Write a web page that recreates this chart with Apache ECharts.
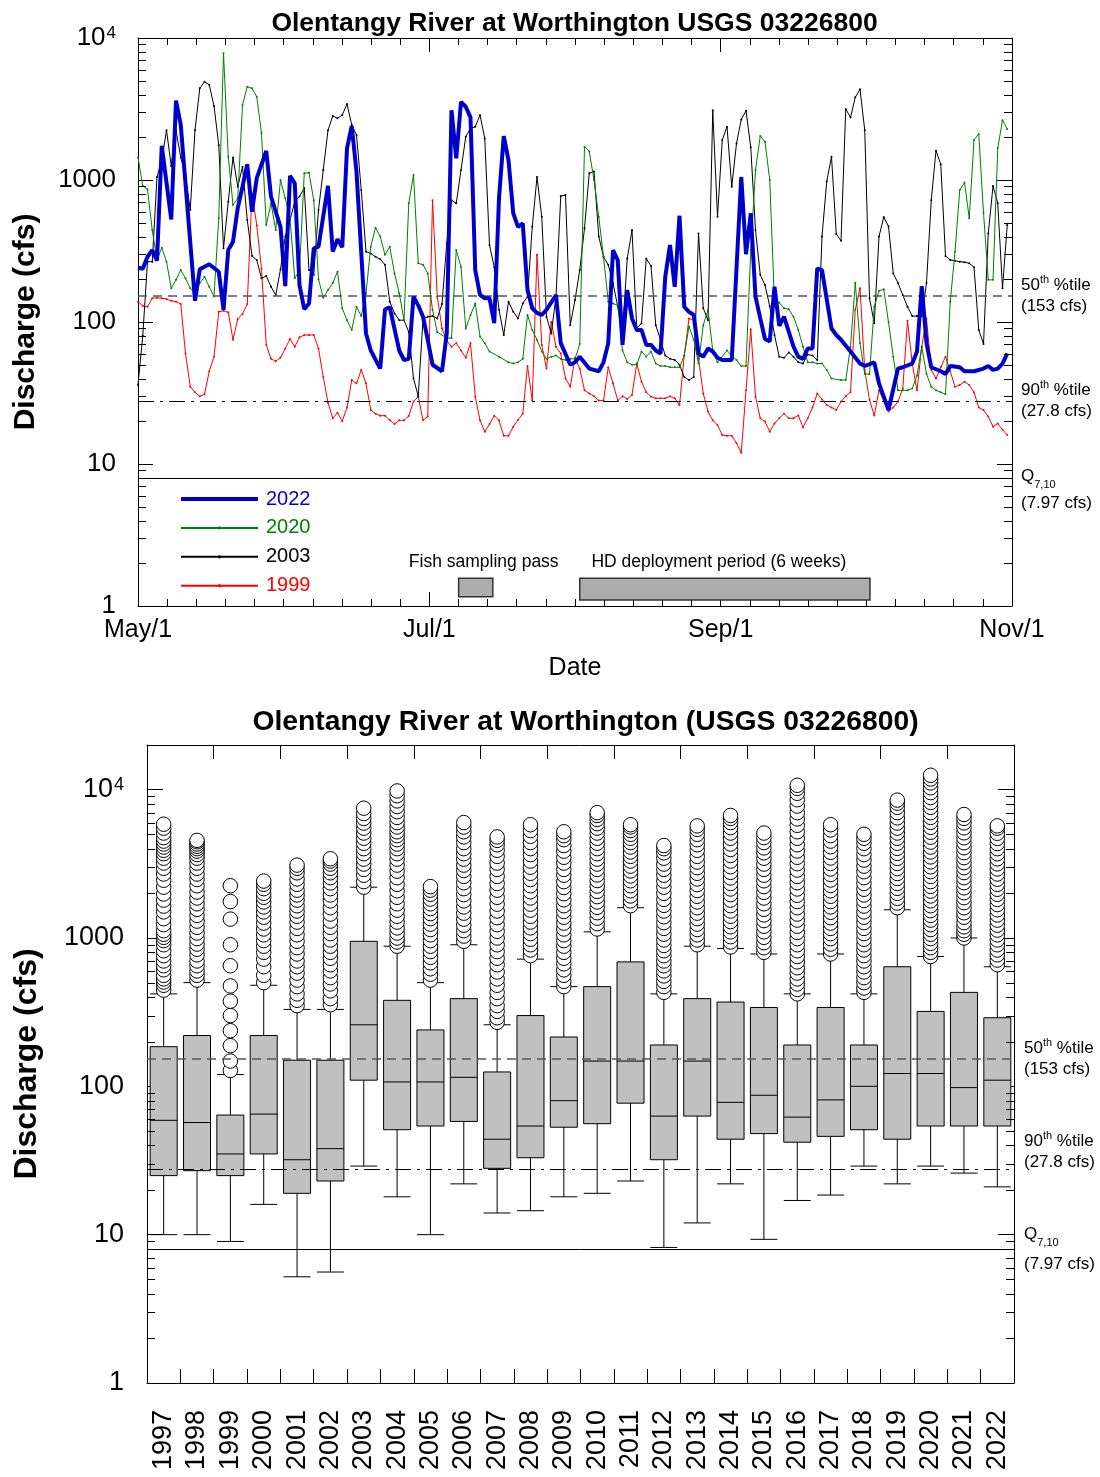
<!DOCTYPE html>
<html>
<head>
<meta charset="utf-8">
<script src="https://cdn.jsdelivr.net/npm/echarts@6/dist/echarts.min.js"></script>
<style>
  html, body { margin: 0; padding: 0; background: #fff; }
  #chart { width: 1100px; height: 1477px; }
</style>
</head>
<body>
<div id="chart"></div>
<script>
// ---- Daily discharge, May 1 – Nov 1 (day index from May 1, cfs) ----
const flow2022 = [[0,241],[1,237],[2,288],[3,321],[4,270],[5,1740],[7,528],[8,3620],[9,2440],[12,141],[13,235],[15,255],[17,226],[18,122],[19,321],[20,368],[21,635],[22,897],[23,1290],[24,598],[25,1030],[27,1600],[28,765],[30,468],[31,179],[32,1070],[33,947],[34,182],[35,123],[36,135],[37,330],[38,339],[40,910],[41,313],[42,383],[43,336],[44,1670],[45,2400],[46,1140],[48,83],[49,63],[51,47],[52,123],[53,127],[55,63],[56,54],[57,55],[58,151],[59,131],[60,109],[61,75],[62,50],[64,45],[65,83],[66,3100],[67,1420],[68,3550],[69,3280],[70,2760],[71,232],[72,155],[73,147],[74,147],[75,98],[76,744],[77,2040],[78,1380],[79,583],[80,468],[81,495],[82,168],[83,125],[84,116],[85,112],[86,122],[88,155],[89,71],[91,50],[92,52],[93,57],[95,47],[96,46],[97,45],[98,52],[99,71],[100,321],[101,273],[102,69],[103,168],[104,106],[105,88],[106,88],[107,69],[108,69],[109,63],[110,60],[111,208],[112,348],[113,177],[114,560],[115,128],[116,118],[117,112],[118,60],[119,57],[120,65],[121,62],[122,56],[123,54],[125,54],[127,1050],[128,300],[129,583],[130,151],[131,106],[132,76],[133,73],[134,177],[135,94],[136,109],[138,67],[139,57],[140,55],[141,65],[142,65],[143,239],[144,232],[146,90],[147,81],[148,75],[150,62],[152,51],[153,49],[155,52],[156,37],[158,24],[160,47],[161,48],[163,51],[164,62],[165,179],[166,71],[167,48],[169,45],[170,43],[171,49],[173,48],[174,45],[176,45],[178,47],[179,49],[180,46],[181,47],[182,51],[183,60]];

const flow2020 = [[0,1440],[1,907],[2,860],[3,444],[4,273],[5,334],[6,266],[7,173],[8,198],[9,232],[10,203],[11,173],[12,159],[13,188],[14,208],[15,177],[16,151],[17,537],[18,7800],[19,1460],[20,667],[21,744],[22,3375],[23,4540],[24,4420],[25,3860],[26,2130],[27,482],[28,685],[29,444],[30,1000],[31,744],[32,537],[33,203],[34,232],[35,1115],[36,1125],[37,720],[38,200],[39,148],[40,168],[41,188],[42,226],[43,125],[44,103],[45,88],[46,128],[47,110],[48,159],[49,339],[50,461],[51,400],[52,297],[53,339],[54,220],[55,159],[56,103],[57,685],[58,1084],[59,259],[60,253],[61,220],[62,122],[63,85],[65,77],[66,77],[67,321],[68,245],[69,90],[70,112],[71,135],[72,79],[73,71],[74,62],[76,57],[78,52],[79,51],[80,52],[81,55],[82,112],[83,88],[84,75],[85,62],[86,55],[87,57],[88,58],[89,55],[90,54],[91,55],[92,55],[93,70],[94,1717],[95,1590],[96,1000],[97,551],[98,288],[99,139],[100,135],[101,131],[102,63],[103,52],[104,50],[105,50],[106,62],[107,57],[108,62],[109,51],[110,49],[111,49],[112,48],[113,48],[114,48],[115,58],[116,93],[117,75],[118,51],[119,95],[120,122],[121,63],[122,52],[124,63],[125,58],[126,54],[127,49],[128,49],[129,321],[130,1175],[131,2040],[132,1860],[133,1000],[134,135],[135,137],[136,125],[137,123],[138,109],[139,88],[140,67],[141,52],[142,52],[143,51],[144,51],[145,46],[146,40],[148,39],[149,39],[150,67],[151,189],[152,71],[153,43],[154,43],[155,128],[156,166],[157,170],[158,100],[159,57],[160,33],[161,33],[162,33],[163,34],[164,42],[165,67],[166,43],[167,35],[168,33],[169,32],[170,31],[171,139],[172,313],[173,852],[174,960],[175,537],[176,1915],[177,2110],[178,590],[179,198],[180,198],[181,1670],[182,2640],[183,2280]];

const flow2003 = [[0,36],[1,80],[2,266],[3,266],[4,1050],[5,1380],[6,2240],[7,1250],[8,2240],[9,1440],[10,1080],[11,616],[12,2240],[13,4420],[14,4920],[15,4680],[16,3320],[17,1760],[18,330],[19,704],[20,1440],[21,897],[22,1240],[23,522],[24,292],[25,273],[26,203],[27,211],[28,177],[29,155],[30,235],[31,400],[32,522],[33,704],[34,765],[35,880],[36,232],[37,215],[38,616],[39,1175],[40,2240],[41,2820],[42,2720],[43,2870],[44,3430],[45,2440],[46,2075],[47,852],[48,313],[49,304],[50,288],[51,277],[52,253],[53,139],[54,115],[55,103],[56,103],[57,85],[58,40],[59,30],[60,105],[61,109],[62,110],[63,106],[64,134],[65,358],[66,720],[67,685],[68,1175],[69,2020],[70,2310],[71,2370],[72,2870],[73,1960],[74,348],[75,243],[76,122],[77,81],[78,139],[79,118],[80,106],[81,135],[82,151],[83,468],[84,1050],[85,551],[86,109],[87,83],[88,151],[89,771],[90,784],[91,95],[92,143],[93,232],[94,457],[95,1115],[96,1150],[97,400],[98,288],[99,253],[100,188],[101,128],[102,85],[103,280],[104,444],[105,90],[106,98],[107,280],[108,248],[109,95],[110,75],[111,58],[112,55],[113,54],[114,50],[115,41],[116,39],[117,41],[118,420],[119,125],[120,103],[121,3100],[122,551],[123,1915],[124,2370],[125,897],[126,1810],[127,2670],[128,3080],[129,1700],[130,444],[131,215],[132,182],[133,129],[134,81],[135,57],[136,56],[137,61],[138,57],[139,52],[140,51],[141,59],[142,58],[143,54],[144,400],[145,980],[146,1460],[147,417],[148,373],[149,3160],[150,2760],[151,3820],[152,4350],[153,2240],[154,147],[155,98],[156,400],[157,548],[158,472],[159,220],[160,188],[161,155],[162,128],[163,110],[164,110],[165,110],[166,188],[167,720],[168,1610],[169,1290],[170,292],[171,273],[172,270],[173,266],[174,264],[175,259],[176,243],[177,88],[178,70],[179,420],[180,907],[181,685],[182,173],[183,482]];

const flow1999 = [[0,139],[1,130],[2,128],[3,147],[4,148],[5,147],[6,145],[7,141],[8,139],[9,134],[10,60],[11,35],[12,32],[13,30],[14,31],[15,45],[16,57],[17,118],[18,120],[19,117],[20,75],[21,105],[22,114],[23,134],[24,805],[25,480],[26,236],[27,69],[28,55],[29,53],[30,56],[31,65],[32,76],[33,67],[34,78],[35,81],[36,81],[37,81],[38,65],[39,41],[40,27],[41,21],[42,23],[43,20],[44,25],[45,39],[46,37],[47,46],[48,37],[49,24],[50,22.6],[51,21.9],[52,21.9],[53,20.4],[54,19.1],[55,20.3],[56,20.3],[57,21.8],[58,27.5],[59,29.8],[60,20.3],[61,21.6],[62,720],[63,151],[64,90],[65,74],[66,67],[67,71],[68,63],[69,56],[70,71],[71,29.8],[72,20.3],[73,16.9],[74,19.1],[75,21.9],[76,20.3],[77,15.8],[78,15.8],[79,18.3],[80,20.4],[81,22.6],[82,49],[83,28],[84,297],[85,69],[86,47],[87,100],[88,67],[89,60],[90,40],[91,35],[92,56],[93,47],[94,33],[95,31.4],[96,30],[97,28],[98,28],[99,48],[100,37],[101,28],[102,30],[103,28.7],[104,30.6],[105,51],[106,38],[107,32],[108,29.8],[109,29],[110,29],[111,29],[112,30],[113,29],[114,26],[115,58],[116,106],[117,103],[118,55],[119,31.4],[120,23.4],[121,20.3],[122,18.8],[123,16],[124,15.8],[125,15.8],[126,14],[127,12],[128,33],[129,89],[130,29.8],[131,21],[132,19.9],[133,16.9],[134,19.3],[135,21],[136,22.6],[137,21],[138,21],[139,22],[140,18.1],[141,21],[142,25],[143,31.4],[144,28.5],[145,26],[146,25],[147,24],[148,27.5],[149,30],[150,32],[151,122],[152,173],[153,46],[154,28.2],[155,22],[156,33],[157,28],[158,23.4],[159,25],[160,27.5],[161,34],[162,102],[163,51],[164,33],[165,67],[166,106],[167,46],[168,40],[169,48],[170,57],[171,45],[172,35],[173,36],[174,38],[175,36],[176,32],[177,25],[178,24],[179,21.6],[180,18.3],[181,19.3],[182,17.4],[183,16]];

// Date axis: labelled month starts (evenly split over the season)
const monthLabels = ['May/1', 'Jul/1', 'Sep/1', 'Nov/1'];
const seasonDays = 184;

// Flow statistics (cfs)
const median50 = 153;     // 50th percentile
const pct90 = 27.8;       // 90th percentile exceedance
const q710 = 7.97;        // Q7,10 low flow

// Study periods (day index from May 1)
const fishPass = [67.5, 74.7];
const hdPeriod = [93, 154.1];

// ---- Annual May–Oct daily flow distribution ----
const years = ['1997','1998','1999','2000','2001','2002','2003','2004','2005','2006','2007','2008','2009','2010','2011','2012','2013','2014','2015','2016','2017','2018','2019','2020','2021','2022'];

// [lower whisker, Q1, median, Q3, upper whisker]
const boxStats = [
  [10, 25, 59, 185, 420],
  [10, 27, 57, 220, 500],
  [9, 25, 35, 64, 120],
  [16, 35, 65, 220, 480],
  [5.2, 19, 32, 150, 330],
  [5.6, 23, 38, 150, 330],
  [29, 110, 260, 950, 2200],
  [18, 51, 107, 380, 880],
  [10, 54, 107, 240, 500],
  [22, 58, 115, 390, 900],
  [14, 28, 44, 125, 260],
  [14.5, 33, 54, 300, 720],
  [18, 53, 80, 215, 470],
  [19, 56, 148, 470, 1100],
  [23, 77, 148, 690, 1600],
  [8.2, 32, 63, 190, 420],
  [12, 63, 148, 390, 880],
  [22, 44, 78, 370, 850],
  [9.3, 48, 87, 340, 780],
  [17, 42, 62, 190, 420],
  [18.5, 46, 81, 340, 780],
  [29, 51, 100, 190, 420],
  [22, 44, 122, 640, 1550],
  [29, 54, 122, 320, 750],
  [26, 54, 98, 430, 1000],
  [21, 54, 110, 290, 640]
];

// High-flow days above the upper whisker, per year
const outliers = [
  [445,480,505,530,560,610,650,700,760,820,900,960,1010,1060,1120,1230,1350,1500,1640,1800,1980,2200,2450,2700,2950,3200,3450,3700,3900,4100,4300,4500,4750,5100,5500,5850],
  [520,560,600,650,700,770,840,910,990,1080,1180,1300,1420,1560,1700,1860,2040,2250,2480,2700,2950,3200,3450,3650,3850,4000,4150,4300,4450,4550],
  [128,148,188,237,300,375,475,650,900,1340,1760,2250],
  [500,560,640,720,800,880,960,1050,1150,1260,1380,1500,1620,1750,1880,2000,2150,2300,2420],
  [350,380,420,470,520,580,640,700,780,860,950,1050,1160,1280,1400,1520,1650,1800,1950,2100,2300,2500,2750,2950,3100],
  [355,390,440,490,540,600,660,730,800,880,970,1070,1180,1300,1450,1600,1780,1950,2150,2350,2550,2750,2950,3150,3300,3420],
  [2200,2400,2650,2900,3150,3400,3700,4000,4350,4700,5100,5500,5950,6400,6900,7500],
  [880,940,1000,1080,1170,1280,1400,1540,1700,1880,2080,2300,2550,2820,3100,3400,3700,4000,4300,4600,4900,5200,5600,6000,6500,7100,7700,8400,9100,9800],
  [520,570,620,680,740,810,880,960,1050,1140,1240,1350,1460,1580,1700,1830,1970,2100,2220],
  [950,1030,1120,1220,1340,1470,1620,1780,1960,2150,2360,2600,2850,3100,3400,3700,4000,4400,4800,5200,5600,6000],
  [270,290,320,350,390,430,480,530,590,660,730,810,900,1000,1110,1230,1370,1520,1690,1880,2100,2330,2600,2900,3200,3550,3900,4250,4550,4800],
  [760,830,900,980,1070,1170,1280,1400,1540,1690,1860,2050,2250,2480,2730,3000,3300,3650,4000,4400,4850,5300,5800],
  [470,510,560,610,670,730,800,880,960,1050,1150,1260,1380,1510,1650,1810,1990,2190,2400,2650,2900,3200,3500,3850,4200,4600,4900,5200],
  [1150,1250,1360,1480,1610,1750,1900,2060,2240,2440,2660,2900,3150,3400,3700,4000,4350,4700,5100,5500,5900,6300,6700,7000],
  [1650,1780,1920,2080,2250,2430,2620,2830,3050,3300,3550,3800,4100,4400,4700,5000,5300,5600,5800],
  [430,470,510,555,600,650,700,760,820,890,970,1060,1160,1270,1390,1520,1660,1820,2000,2200,2420,2650,2900,3150,3450,3750,4000,4200],
  [900,970,1050,1140,1240,1350,1470,1600,1750,1910,2090,2290,2500,2730,2980,3250,3550,3900,4250,4600,5000,5400,5700],
  [870,940,1020,1100,1190,1290,1400,1520,1650,1800,1960,2140,2330,2540,2770,3020,3300,3600,3950,4300,4700,5100,5550,6000,6400,6700],
  [800,860,930,1010,1100,1200,1310,1430,1560,1700,1860,2030,2220,2430,2650,2900,3150,3450,3750,4050,4400,4750,5100],
  [420,450,490,530,580,630,690,750,820,900,990,1090,1200,1320,1450,1600,1760,1940,2140,2360,2600,2870,3170,3500,3860,4250,4700,5200,5750,6350,7000,7750,8550,9450,10200,10700],
  [780,840,910,990,1070,1160,1260,1370,1490,1620,1760,1910,2080,2260,2460,2680,2920,3180,3460,3780,4120,4500,4900,5350,5800],
  [430,460,500,540,590,640,700,760,830,900,980,1070,1160,1270,1380,1500,1640,1790,1950,2130,2330,2550,2800,3050,3350,3650,4000,4350,4700,5000],
  [1600,1720,1850,2000,2160,2330,2520,2720,2940,3180,3440,3720,4020,4350,4700,5100,5500,5950,6450,7000,7600,8100,8500],
  [750,800,860,920,990,1060,1140,1230,1320,1420,1530,1650,1780,1920,2070,2230,2400,2600,2800,3020,3260,3520,3800,4100,4430,4780,5160,5570,6020,6500,7000,7600,8200,8850,9550,10300,11100,11800,12500],
  [1000,1060,1120,1190,1270,1380,1480,1600,1730,1870,2020,2180,2360,2550,2760,2980,3220,3480,3760,4060,4390,4740,5120,5530,5970,6400,6800],
  [660,710,770,830,900,970,1050,1130,1220,1320,1430,1550,1680,1820,1970,2130,2300,2490,2700,2920,3160,3420,3700,4000,4330,4690,5080,5500,5700]
];

// ---- Styling ----
const FONT = '"Liberation Sans", Arial, Helvetica, sans-serif';
const BLUE = '#0000cd', GREEN = '#008000', RED = '#ff0000', BLACK = '#000000';

function logLabel(v) {
  const e = Math.log10(v), r = Math.round(e);
  if (Math.abs(e - r) > 1e-6) return '';
  if (r >= 4) return '{m|10}{p|' + r + '}';
  return '{m|' + Math.round(Math.pow(10, r)) + '}';
}
function richLog(size) {
  return {
    m: { fontSize: size, fontFamily: FONT, color: '#000' },
    p: { fontSize: Math.round(size * 0.65), fontFamily: FONT, color: '#000', verticalAlign: 'top', lineHeight: Math.round(size * 0.65), padding: [0, 0, 0, 1] }
  };
}
// Right-hand annotation text; q-line height differs between the two panels
function richRight(qLine) {
  return {
    n: { fontSize: 17, fontFamily: FONT, color: '#000', lineHeight: 21 },
    q: { fontSize: 17, fontFamily: FONT, color: '#000', lineHeight: qLine },
    sup: { fontSize: 11, fontFamily: FONT, color: '#000', verticalAlign: 'top', lineHeight: 11 },
    sub: { fontSize: 11, fontFamily: FONT, color: '#000', verticalAlign: 'top', lineHeight: 11, padding: [Math.round(qLine / 2) + 3, 0, 0, 0] }
  };
}

// Minor log ticks (2..9 per decade)
function minorLogValues(maxVal) {
  const out = [];
  for (let d = 1; d < maxVal; d *= 10) {
    for (let m = 2; m <= 9; m++) { if (m * d < maxVal) out.push(m * d); }
  }
  return out;
}
function minorTickSeries(xi, yi, maxVal) {
  return {
    type: 'custom', xAxisIndex: xi, yAxisIndex: yi, silent: true, clip: false, z: 20,
    data: minorLogValues(maxVal).map(v => [0, v]),
    encode: { x: 0, y: 1 },
    renderItem: function (params, api) {
      const cs = params.coordSys;
      const y = Math.round(api.coord([0, api.value(1)])[1]) + 0.5;
      const st = { stroke: '#000', lineWidth: 1 };
      return { type: 'group', children: [
        { type: 'line', shape: { x1: cs.x, y1: y, x2: cs.x + 8, y2: y }, style: st },
        { type: 'line', shape: { x1: cs.x + cs.width, y1: y, x2: cs.x + cs.width - 8, y2: y }, style: st }
      ]};
    }
  };
}

function refLines(pad90, padQ) {
  return [
    { yAxis: median50, lineStyle: { type: [9, 6], color: '#555', width: 1.5 },
      label: { formatter: '{n|50}{sup|th}{n| %tile}\n{n|(153 cfs)}' } },
    { yAxis: pct90, lineStyle: { type: [16, 6, 3, 6], color: '#000', width: 1.2 },
      label: { formatter: '{n|90}{sup|th}{n| %tile}\n{n|(27.8 cfs)}', padding: pad90 } },
    { yAxis: q710, lineStyle: { type: 'solid', color: '#000', width: 1 },
      label: { formatter: '{q|Q}{sub|7,10}\n{q|(7.97 cfs)}', padding: padQ } }
  ];
}

const axisLineBlack = { show: true, onZero: false, lineStyle: { color: '#000', width: 1 } };

const chart = echarts.init(document.getElementById('chart'), null, { renderer: 'canvas' });

const option = {
  animation: false,
  backgroundColor: '#fff',
  title: [
    { text: 'Olentangy River at Worthington USGS 03226800', left: 569.5, textAlign: 'center', top: 5,
      textStyle: { fontSize: 26.5, fontWeight: 'bold', fontFamily: FONT, color: '#000' } },
    { text: 'Olentangy River at Worthington (USGS 03226800)', left: 580.5, textAlign: 'center', top: 703,
      textStyle: { fontSize: 28.3, fontWeight: 'bold', fontFamily: FONT, color: '#000' } }
  ],
  legend: {
    orient: 'vertical', left: 179, top: 489, padding: 0, itemWidth: 77, itemHeight: 4, itemGap: 8.9,
    selectedMode: false,
    textStyle: { fontSize: 20, fontFamily: FONT, padding: [0, 0, 0, 3] },
    data: [
      { name: '2022', textStyle: { color: BLUE }, lineStyle: { width: 4 } },
      { name: '2020', textStyle: { color: GREEN } },
      { name: '2003', textStyle: { color: BLACK } },
      { name: '1999', textStyle: { color: RED } }
    ]
  },
  grid: [
    { left: 138, top: 38, width: 874, height: 568, outerBoundsMode: 'none', containLabel: false },
    { left: 147, top: 745, width: 867, height: 638, outerBoundsMode: 'none', containLabel: false }
  ],
  xAxis: [
    { type: 'value', gridIndex: 0, min: 0, max: seasonDays, interval: seasonDays / 3, position: 'bottom',
      axisLine: axisLineBlack,
      axisTick: { show: true, inside: true, length: 14, lineStyle: { color: '#000' } },
      minorTick: { show: true, splitNumber: 10, length: 7, lineStyle: { color: '#000' } },
      splitLine: { show: false }, minorSplitLine: { show: false },
      axisLabel: { fontSize: 25, fontFamily: FONT, color: '#000', margin: 12,
        formatter: v => monthLabels[Math.round(v / (seasonDays / 3))] },
      name: 'Date', nameLocation: 'middle', nameGap: 50,
      nameTextStyle: { fontSize: 25, fontFamily: FONT, color: '#000' } },
    { type: 'value', gridIndex: 0, min: 0, max: seasonDays, interval: seasonDays / 3, position: 'top',
      axisLine: axisLineBlack,
      axisTick: { show: true, inside: true, length: 14, lineStyle: { color: '#000' } },
      minorTick: { show: true, splitNumber: 10, length: 7, lineStyle: { color: '#000' } },
      splitLine: { show: false }, axisLabel: { show: false } },
    { type: 'category', gridIndex: 1, data: years, position: 'bottom',
      axisLine: axisLineBlack,
      axisTick: { show: true, inside: true, length: 14, alignWithLabel: false, lineStyle: { color: '#000' } },
      splitLine: { show: false },
      axisLabel: { rotate: 90, fontSize: 27, fontFamily: FONT, color: '#000', margin: 27, interval: 0 } },
    { type: 'category', gridIndex: 1, data: years, position: 'top',
      axisLine: axisLineBlack,
      axisTick: { show: true, inside: true, length: 14, alignWithLabel: false, lineStyle: { color: '#000' } },
      splitLine: { show: false }, axisLabel: { show: false } }
  ],
  yAxis: [
    { type: 'log', logBase: 10, gridIndex: 0, min: 1, max: 10000, position: 'left',
      axisLine: axisLineBlack,
      axisTick: { show: true, inside: true, length: 15, lineStyle: { color: '#000' } },
      splitLine: { show: false },
      axisLabel: { formatter: logLabel, rich: richLog(26), margin: 22 },
      name: 'Discharge (cfs)', nameLocation: 'middle', nameGap: 97, nameRotate: 90,
      nameTextStyle: { fontSize: 30, fontWeight: 'bold', fontFamily: FONT, color: '#000' } },
    { type: 'log', logBase: 10, gridIndex: 0, min: 1, max: 10000, position: 'right',
      axisLine: axisLineBlack,
      axisTick: { show: true, inside: true, length: 15, lineStyle: { color: '#000' } },
      splitLine: { show: false }, axisLabel: { show: false } },
    { type: 'log', logBase: 10, gridIndex: 1, min: 1, max: 20000, position: 'left',
      axisLine: axisLineBlack,
      axisTick: { show: true, inside: true, length: 16, lineStyle: { color: '#000' } },
      splitLine: { show: false },
      axisLabel: { formatter: logLabel, rich: richLog(27), margin: 23 },
      name: 'Discharge (cfs)', nameLocation: 'middle', nameGap: 104, nameRotate: 90,
      nameTextStyle: { fontSize: 32, fontWeight: 'bold', fontFamily: FONT, color: '#000' } },
    { type: 'log', logBase: 10, gridIndex: 1, min: 1, max: 20000, position: 'right',
      axisLine: axisLineBlack,
      axisTick: { show: true, inside: true, length: 16, lineStyle: { color: '#000' } },
      splitLine: { show: false }, axisLabel: { show: false } }
  ],
  series: [
    // reference flows + study periods (top)
    { name: 'ref-top', type: 'line', xAxisIndex: 0, yAxisIndex: 0, data: [], silent: true, z: 1,
      markLine: { silent: true, symbol: 'none', animation: false,
        label: { show: true, position: 'end', distance: 9, rich: richRight(27), color: '#000' },
        data: refLines(0, [23, 0, 0, 0]) },
      markArea: { silent: true,
        itemStyle: { color: '#acacac', borderColor: '#333', borderWidth: 1.5 },
        label: { show: true, position: 'top', distance: 6, fontSize: 17.5, fontFamily: FONT, color: '#000' },
        data: [
          [{ name: 'Fish sampling pass', coord: [fishPass[0], 1.16], label: { offset: [8, 0] } }, { coord: [fishPass[1], 1.57] }],
          [{ name: 'HD deployment period (6 weeks)', coord: [hdPeriod[0], 1.10], label: { offset: [-6, 0] } }, { coord: [hdPeriod[1], 1.57] }]
        ] } },
    { name: '1999', type: 'line', xAxisIndex: 0, yAxisIndex: 0, data: flow1999, z: 2,
      symbol: 'circle', symbolSize: 2, showSymbol: true, color: RED,
      lineStyle: { color: RED, width: 1 }, itemStyle: { color: RED } },
    { name: '2003', type: 'line', xAxisIndex: 0, yAxisIndex: 0, data: flow2003, z: 3,
      symbol: 'circle', symbolSize: 2, showSymbol: true, color: BLACK,
      lineStyle: { color: BLACK, width: 1 }, itemStyle: { color: BLACK } },
    { name: '2020', type: 'line', xAxisIndex: 0, yAxisIndex: 0, data: flow2020, z: 4,
      symbol: 'circle', symbolSize: 2, showSymbol: true, color: GREEN,
      lineStyle: { color: GREEN, width: 1 }, itemStyle: { color: GREEN } },
    { name: '2022', type: 'line', xAxisIndex: 0, yAxisIndex: 0, data: flow2022, z: 5,
      symbol: 'none', color: BLUE, lineStyle: { color: BLUE, width: 4 } },
    minorTickSeries(0, 0, 10000),

    // annual distributions (bottom)
    { name: 'boxes', type: 'boxplot', xAxisIndex: 2, yAxisIndex: 2, data: boxStats, z: 2,
      boxWidth: [27, 27],
      itemStyle: { color: '#c0c0c0', borderColor: '#000', borderWidth: 1 } },
    { name: 'ref-bottom', type: 'line', xAxisIndex: 2, yAxisIndex: 2, data: [], silent: true, z: 3,
      markLine: { silent: true, symbol: 'none', animation: false,
        label: { show: true, position: 'end', distance: 10, rich: richRight(30), color: '#000' },
        data: refLines([0, 0, 34, 0], 0) } },
    { name: 'high flows', type: 'scatter', xAxisIndex: 2, yAxisIndex: 2, z: 4,
      symbol: 'circle', symbolSize: 14.5,
      itemStyle: { color: '#fff', borderColor: '#000', borderWidth: 1, opacity: 1 },
      data: outliers.flatMap((list, i) => list.map(v => [i, v])) },
    minorTickSeries(2, 2, 20000)
  ]
};

chart.setOption(option);
</script>
</body>
</html>
